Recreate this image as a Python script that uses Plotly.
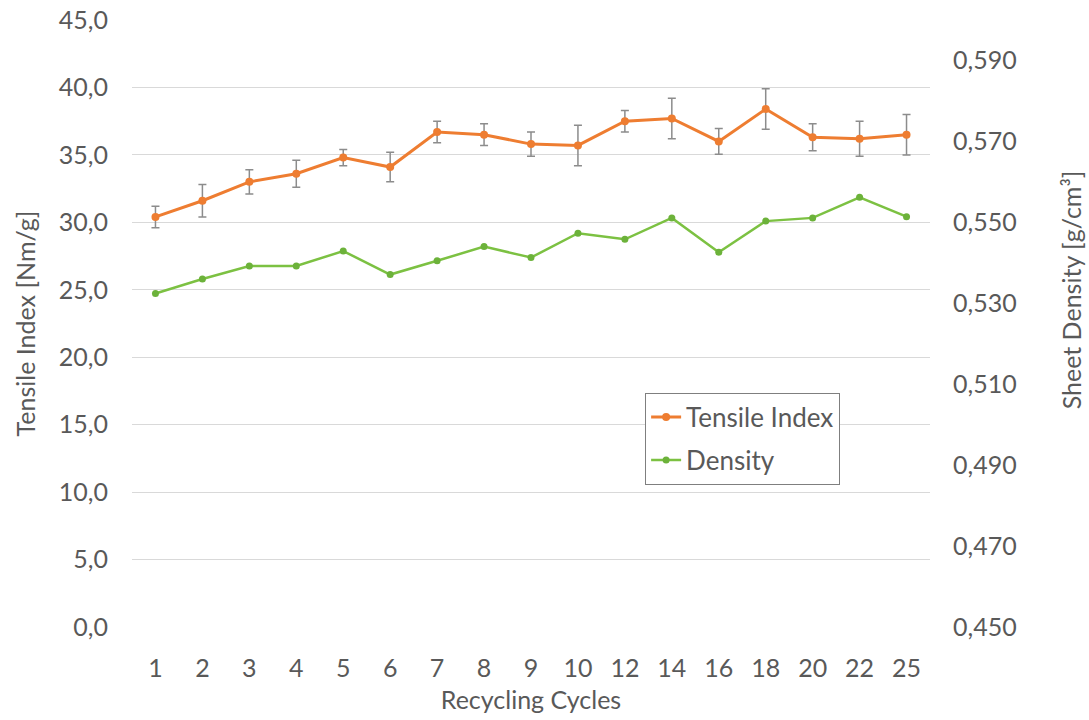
import plotly.graph_objects as go

# Recycling cycle labels (categorical x axis)
cycles = ["1", "2", "3", "4", "5", "6", "7", "8", "9", "10", "12", "14", "16", "18", "20", "22", "25"]

# Tensile index [Nm/g] with standard deviation
tensile_index = [30.4, 31.6, 33.0, 33.6, 34.8, 34.1, 36.7, 36.5, 35.8, 35.7, 37.5, 37.7, 36.0, 38.4, 36.3, 36.2, 36.5]
tensile_sd = [0.8, 1.2, 0.9, 1.0, 0.6, 1.1, 0.8, 0.8, 0.9, 1.5, 0.8, 1.5, 0.95, 1.5, 1.0, 1.3, 1.5]

# Sheet density [g/cm³]
density = [0.5324, 0.5360, 0.5392, 0.5392, 0.5429, 0.5371, 0.5405, 0.5440, 0.5413, 0.5473,
           0.5458, 0.5511, 0.5426, 0.5503, 0.5511, 0.5562, 0.5514]

FONT = "Lato"
TXT = "#595959"
ORANGE = "#EE7D31"
GREEN = "#7CC142"
FS = 25

fig = go.Figure()

fig.add_trace(go.Scatter(
    x=cycles, y=tensile_index, name="Tensile Index",
    mode="lines+markers",
    line=dict(color=ORANGE, width=3),
    marker=dict(color=ORANGE, size=8),
    error_y=dict(type="data", array=tensile_sd, visible=True,
                 color="#8C8C8C", thickness=1.5, width=4),
    legendgroup="a",
))

fig.add_trace(go.Scatter(
    x=cycles, y=density, name="Density", yaxis="y2",
    mode="lines+markers",
    line=dict(color=GREEN, width=2.5),
    marker=dict(color="#6CB23A", size=7),
    legendgroup="b",
))

fig.update_layout(
    width=1089, height=720,
    margin=dict(l=132, r=159, t=20, b=93),
    paper_bgcolor="white", plot_bgcolor="white",
    separators=",.",
    font=dict(family=FONT, size=FS, color=TXT),
    showlegend=True,
    legend=dict(
        x=0.643, y=0.386, xanchor="left", yanchor="top",
        bordercolor="#7F7F7F", borderwidth=1,
        font=dict(family=FONT, size=26, color=TXT),
        traceorder="grouped", tracegroupgap=6,
        itemwidth=30,
        bgcolor="white",
    ),
    xaxis=dict(
        type="category", range=[-0.5, 16.5], automargin=False,
        showgrid=False, showline=False, ticks="",
        tickfont=dict(size=FS, color=TXT),
        ticklabelstandoff=24,
        title=dict(text="Recycling Cycles", font=dict(size=FS, color=TXT), standoff=10),
    ),
    yaxis=dict(
        range=[0, 45], tick0=0, dtick=5, tickformat=".1f", automargin=False,
        showgrid=True, gridcolor="#D9D9D9", gridwidth=1,
        zeroline=False, showline=False, ticks="",
        tickfont=dict(size=FS, color=TXT),
        ticklabelstandoff=23,
        title=dict(text="Tensile Index [Nm/g]", font=dict(size=FS, color=TXT), standoff=16),
    ),
    yaxis2=dict(
        overlaying="y", side="right", automargin=False,
        range=[0.45, 0.60], tick0=0.45, dtick=0.02, tickformat=".3f",
        showgrid=False, zeroline=False, showline=False, ticks="",
        tickfont=dict(size=FS, color=TXT),
        ticklabelstandoff=22,
    ),
    annotations=[dict(
        text="Sheet Density [g/cm³]", textangle=-90,
        xref="paper", yref="paper", x=1.177, y=0.555,
        xanchor="center", yanchor="middle", showarrow=False,
        font=dict(family=FONT, size=FS, color=TXT),
    )],
)

fig.write_html("out.html")
